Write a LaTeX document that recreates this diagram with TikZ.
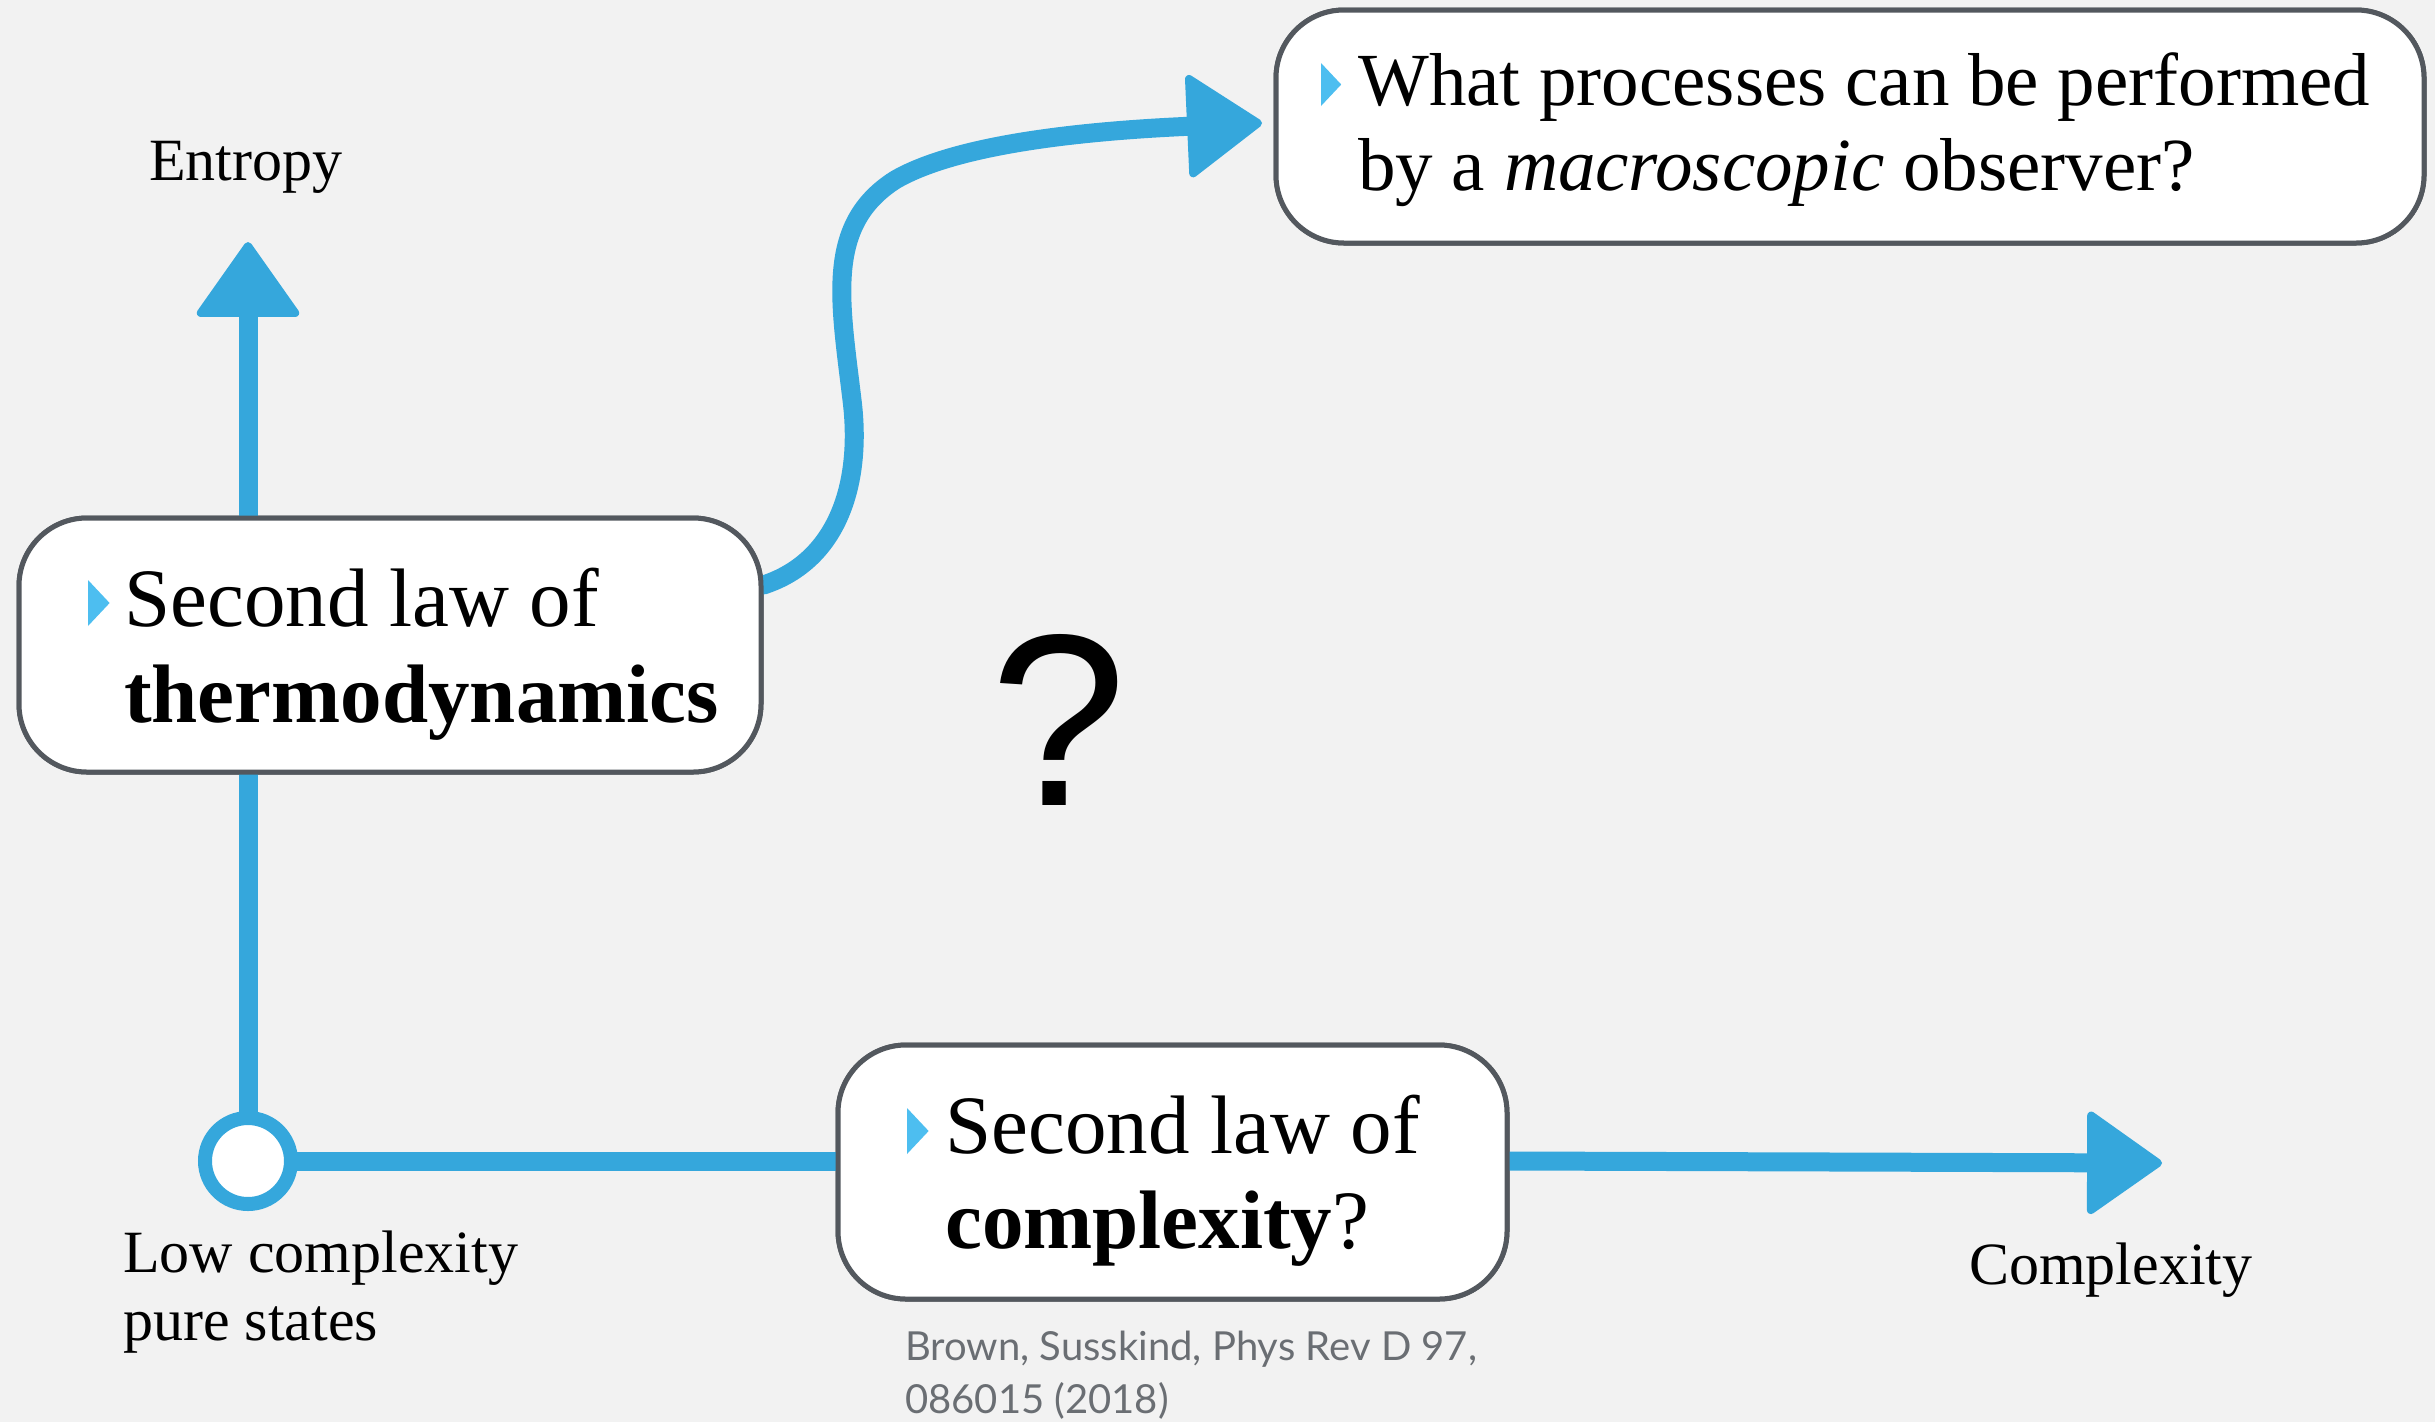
\documentclass[tikz,border=0pt]{standalone}
\usepackage{fontspec}
\setmainfont{Liberation Serif}
\newfontfamily\qmarkfont{Liberation Sans}
\newfontfamily\reffont{Lato}
\usetikzlibrary{arrows.meta}
\definecolor{bg}{HTML}{F2F2F2}
\definecolor{flow}{HTML}{35A7DC}
\definecolor{bullet}{HTML}{4DBEF0}
\definecolor{frame}{HTML}{53585E}
\definecolor{refgrey}{HTML}{6A6E73}
\newcommand\bulletmark[2]{\fill[bullet] (#1) -- ++(#2*0.47,#2*0.5) -- ++(-#2*0.47,#2*0.5) -- cycle;}
\begin{document}
\begin{tikzpicture}[x=1pt,y=-1pt,
  box/.style={draw=frame, line width=5pt, fill=white, rounded corners=68pt, inner sep=0pt},
  flowline/.style={draw=flow, line width=19pt, line cap=round},
  tip/.style={-{Triangle[length=78pt,width=108pt,round,line width=8pt]}},
  bigtext/.style={anchor=base west, inner sep=0pt, font=\fontsize{83}{96}\selectfont},
  qtext/.style={anchor=base west, inner sep=0pt, font=\fontsize{75}{81}\selectfont},
  label/.style={anchor=base west, inner sep=0pt, font=\fontsize{60}{69}\selectfont},
  reftext/.style={anchor=base west, inner sep=0pt, text=refgrey, font=\reffont\fontsize{40}{53}\selectfont}]

% canvas
\fill[bg] (0,0) rectangle (2435,1422);
\useasboundingbox (0,0) rectangle (2435,1422);

% box outlines, placed first so the connectors can refer to them
\node[box, minimum width=742pt, minimum height=254pt] (thermo) at (390,645) {};
\node[box, minimum width=669pt, minimum height=254pt] (cplx) at (1172.5,1172) {};
\node[box, minimum width=1148pt, minimum height=233pt] (macro) at (1850,126.5) {};

% axis origin and free arrow ends
\coordinate (o) at (248,1161);
\coordinate (etip) at (248,242);
\coordinate (ctip) at (2162,1163);
\coordinate (mtip) at (1262,123);
\coordinate (tstart) at ([yshift=60pt]thermo.east);

% connectors
\draw[flowline] (o) -- (o |- thermo.south);
\draw[flowline, tip] (o |- thermo.north) -- (etip);
\draw[flowline] (o) -- (o -| cplx.west);
\draw[flowline, tip] (o -| cplx.east) -- (ctip);
\draw[flowline, tip] (tstart) .. controls (840,560) and (862,480) .. (852,400)
  .. controls (840,300) and (825,225) .. (895,180)
  .. controls (950,148) and (1060,132) .. (mtip);

% boxes again, over the line ends
\node[box, minimum width=742pt, minimum height=254pt] (thermoF) at (thermo) {};
\node[box, minimum width=669pt, minimum height=254pt] (cplxF) at (cplx) {};
\node[box, minimum width=1148pt, minimum height=233pt] (macroF) at (macro) {};

% origin marker
\node[circle, draw=flow, line width=14pt, fill=white, minimum size=86pt, inner sep=0pt] (origin) at (o) {};

% box contents
\bulletmark{88,580}{46}
\node[bigtext] (thermoA) at (124,626) {Second law of};
\node[bigtext] (thermoB) at (124,722) {\textbf{thermodynamics}};

\bulletmark{907,1108}{46}
\node[bigtext] (cplxA) at (945,1153) {Second law of};
\node[bigtext] (cplxB) at (945,1248) {\textbf{complexity}?};

\bulletmark{1321,63}{43}
\node[qtext] (macroA) at (1358,105) {What processes can be performed};
\node[qtext] (macroB) at (1358,190) {by a \textit{macroscopic} observer?};

% axis labels
\node[label] (entropy) at (149,180) {Entropy};
\node[label] (lowA) at (123,1272) {Low complexity};
\node[label] (lowB) at (123,1340) {pure states};
\node[label] (cxlabel) at (1969,1284) {Complexity};

% open question
\node[anchor=base, inner sep=0pt, font=\qmarkfont\fontsize{245}{245}\selectfont] (qmark) at (1059,805) {?};

% reference
\node[reftext] (refA) at (905,1360) {Brown, Susskind, Phys Rev D 97,};
\node[reftext] (refB) at (905,1413) {086015 (2018)};
\end{tikzpicture}
\end{document}
